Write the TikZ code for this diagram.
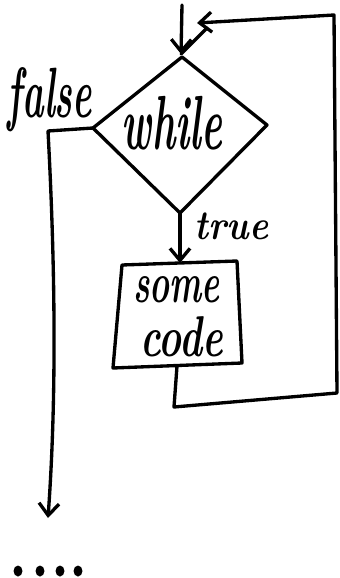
\documentclass[tikz,border=0pt]{standalone}
\usepackage{graphicx}
\usetikzlibrary{arrows.meta}
\begin{document}
\begin{tikzpicture}[x=0.75pt,y=-0.75pt,
  line width=2.5pt, line cap=round, line join=round,
  flow/.style={-{Straight Barb[length=9pt,width=15pt,line width=2.5pt]}},
  lbl/.style={inner sep=0pt, font=\bfseries\itshape}]
\useasboundingbox (0,0) rectangle (339,578);

% decision diamond
\coordinate (dT) at (182,57);
\coordinate (dR) at (267,125);
\coordinate (dB) at (180,213);
\coordinate (dL) at (93,128);
\draw (dT) -- (dR) -- (dB) -- (dL) -- cycle;
\node[lbl] (while) at (172,123.5) {\resizebox{75pt}{40pt}{while}};

% entry arrow and junction
\coordinate (in) at (182,5);
\coordinate (join) at (181,54);
\draw[flow] (in) -- (join);

% false branch
\coordinate (fc) at (48,131);
\coordinate (fend) at (48,518);
\draw[flow] (dL) -- (fc) .. controls (57,300) and (55,420) .. (fend);
\node[lbl] (false) at (50,100) {\resizebox{63pt}{37.5pt}{false}};

% true branch into the body
\coordinate (bT) at (180,263);
\draw[flow] (dB) -- (bT);
\node[lbl] (true) at (231.5,226.5) {\resizebox{55pt}{20pt}{true}};

% loop body
\coordinate (b1) at (122,265);
\coordinate (b2) at (237,261);
\coordinate (b3) at (242,363);
\coordinate (b4) at (113,368);
\draw (b1) -- (b2) -- (b3) -- (b4) -- cycle;
\node[lbl] (some) at (176.5,290) {\resizebox{65pt}{19.5pt}{some}};
\node[lbl] (code) at (181.5,337) {\resizebox{62pt}{30pt}{code}};

% back edge to the condition
\coordinate (bB) at (177,366);
\coordinate (l1) at (174,407);
\coordinate (l2) at (337,393);
\coordinate (l3) at (334,15);
\coordinate (ret) at (197,23);
\coordinate (rs) at (207,28);
\draw[flow] (bB) -- (l1) -- (l2) -- (l3) -- (ret);
\draw (rs) -- (join);

% continuation dots
\foreach \x in {18,40,60,78} \fill (\x,571) ellipse (4.5 and 5.5);
\end{tikzpicture}
\end{document}
